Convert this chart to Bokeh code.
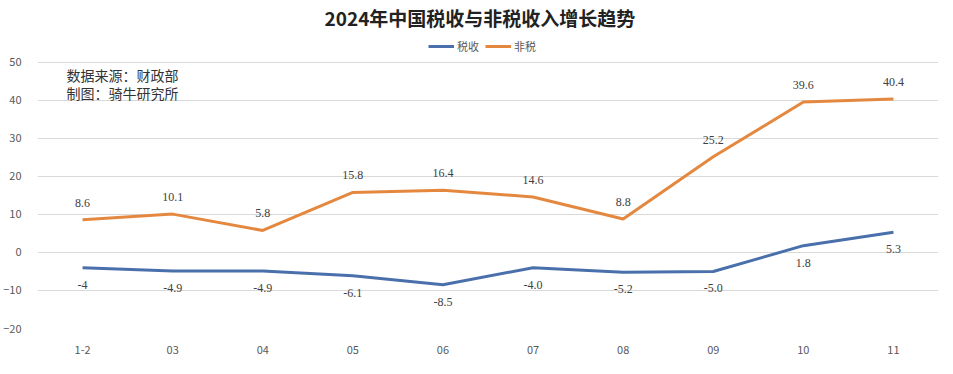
from bokeh.plotting import figure
from bokeh.models import ColumnDataSource, LabelSet, Label, Legend, LegendItem, Title, FactorRange
from bokeh.embed import file_html
from bokeh.resources import INLINE

months = ["1-2", "03", "04", "05", "06", "07", "08", "09", "10", "11"]
tax = [-4.0, -4.9, -4.9, -6.1, -8.5, -4.0, -5.2, -5.0, 1.8, 5.3]
tax_labels = ["-4", "-4.9", "-4.9", "-6.1", "-8.5", "-4.0", "-5.2", "-5.0", "1.8", "5.3"]
nontax = [8.6, 10.1, 5.8, 15.8, 16.4, 14.6, 8.8, 25.2, 39.6, 40.4]
nontax_labels = ["8.6", "10.1", "5.8", "15.8", "16.4", "14.6", "8.8", "25.2", "39.6", "40.4"]
y_ticks = [-20, -10, 0, 10, 20, 30, 40, 50]

FONT = "Noto Sans CJK SC"
BLUE = "#4A70AC"
ORANGE = "#E5883F"

src = ColumnDataSource(dict(m=months, tax=tax, tl=tax_labels, nt=nontax, nl=nontax_labels))

# frame extends above the 50 gridline to host the legend (no visible axis line)
p = figure(width=945, height=366, x_range=FactorRange(*months, range_padding=0),
           y_range=(-20, 58.42), output_backend="svg", toolbar_location=None,
           min_border_left=34, min_border_right=7, min_border_top=30, min_border_bottom=38)
p.title = Title(text="2024年中国税收与非税收入增长趋势", align="left", offset=287,
                text_font=FONT, text_font_size="19px", text_font_style="bold",
                text_color="#222222", standoff=0)
p.outline_line_color = None

r1 = p.line("m", "tax", source=src, line_color=BLUE, line_width=3)
r2 = p.line("m", "nt", source=src, line_color=ORANGE, line_width=3)

p.add_layout(LabelSet(x="m", y="tax", text="tl", source=src, y_offset=-17,
                      text_align="center", text_baseline="middle",
                      text_font=FONT, text_font_size="12px", text_color="#404040"))
p.add_layout(LabelSet(x="m", y="nt", text="nl", source=src, y_offset=17,
                      text_align="center", text_baseline="middle",
                      text_font=FONT, text_font_size="12px", text_color="#404040"))

p.add_layout(Label(x=29, y=264, x_units="screen", y_units="screen", text="数据来源：财政部",
                   text_baseline="top", text_font=FONT, text_font_size="14px", text_color="#333333"))
p.add_layout(Label(x=29, y=246, x_units="screen", y_units="screen", text="制图：骑牛研究所",
                   text_baseline="top", text_font=FONT, text_font_size="14px", text_color="#333333"))

legend = Legend(items=[LegendItem(label="税收", renderers=[r1]), LegendItem(label="非税", renderers=[r2])],
                orientation="horizontal", location=(391, 274),
                label_text_font=FONT, label_text_font_size="11px", label_text_color="#595959",
                glyph_width=26, glyph_height=10, label_standoff=3, spacing=6,
                padding=0, margin=0, border_line_alpha=0, background_fill_alpha=0)
p.add_layout(legend, "center")

p.xgrid.grid_line_color = None
p.ygrid.grid_line_color = "#d9d9d9"
p.ygrid.ticker = y_ticks
p.yaxis.ticker = y_ticks
for ax in (p.xaxis[0], p.yaxis[0]):
    ax.axis_line_color = None
    ax.major_tick_line_color = None
    ax.minor_tick_line_color = None
    ax.major_label_text_font = FONT
    ax.major_label_text_font_size = "11px"
    ax.major_label_text_color = "#595959"
p.yaxis.major_label_standoff = 10
p.xaxis.major_label_standoff = 11

open("out.html", "w").write(file_html(p, INLINE))
